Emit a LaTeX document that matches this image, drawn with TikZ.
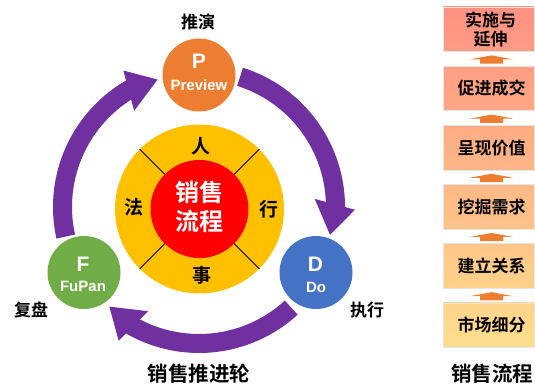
\documentclass[tikz,border=0pt]{standalone}
\usepackage{fontspec}
\setmainfont{Liberation Sans}
\newfontfamily\cjk{Noto Sans CJK SC Bold}
\usetikzlibrary{calc}
\definecolor{pOrange}{RGB}{237,125,49}
\definecolor{pBlue}{RGB}{68,114,196}
\definecolor{pGreen}{RGB}{112,173,71}
\definecolor{pPurple}{RGB}{112,48,160}
\definecolor{pYellow}{RGB}{255,192,0}
\definecolor{pRed}{RGB}{255,0,0}
\definecolor{c0t}{RGB}{255,145,130}\definecolor{c0b}{RGB}{255,155,131}
\definecolor{c1t}{RGB}{255,158,132}\definecolor{c1b}{RGB}{255,168,133}
\definecolor{c2t}{RGB}{255,172,133}\definecolor{c2b}{RGB}{255,182,135}
\definecolor{c3t}{RGB}{255,185,135}\definecolor{c3b}{RGB}{255,195,136}
\definecolor{c4t}{RGB}{255,199,137}\definecolor{c4b}{RGB}{255,209,138}
\definecolor{c5t}{RGB}{255,212,139}\definecolor{c5b}{RGB}{255,222,140}
\newcommand\ringarrow[1]{%
  \pgfmathsetmacro\sa{#1+72.5}%
  \pgfmathsetmacro\ea{#1-1.5}%
  \fill[pPurple] ($(C)+(\sa:146)$) arc[start angle=\sa, end angle=\ea, radius=146]
     -- ($(C)+(\ea:127)$) arc[start angle=\ea, end angle=\sa, radius=127] -- cycle;
  \fill[pPurple] ($(C)+({#1+4}:116)$) -- ($(C)+({#1-12}:134)$) -- ($(C)+({#1-1}:156)$) -- cycle;
}
\begin{document}
\begin{tikzpicture}[x=1pt,y=1pt,
  phase/.style={circle, minimum size=73, inner sep=0},
  big/.style={font=\bfseries\fontsize{21}{21}\selectfont, text=white, inner sep=0},
  small/.style={font=\bfseries\fontsize{15}{15}\selectfont, text=white, inner sep=0},
  lab/.style={font=\cjk\fontsize{17}{17}\selectfont, inner sep=0},
  title/.style={font=\cjk\fontsize{20.5}{20.5}\selectfont, inner sep=0},
  ringlab/.style={font=\cjk\fontsize{19}{19}\selectfont, inner sep=0},
  boxtxt/.style={font=\cjk\fontsize{17}{19.5}\selectfont, inner sep=0, align=center},
  stepbox/.style={rectangle, minimum width=91, minimum height=44.5, inner sep=0, draw=black!10, line width=0.75},
]
\fill[white] (0,0) rectangle (535,388);
\useasboundingbox (0,0) rectangle (535,388);
\coordinate (C) at (199,181);
\coordinate (Y) at (199.5,179);
% ring arrows
\ringarrow{0}
\ringarrow{-120}
\ringarrow{120}
% phase circles
\node[phase, fill=pOrange] (P) at (199,313) {};
\node[phase, fill=pBlue] (D) at (316,115.5) {};
\node[phase, fill=pGreen] (F) at (84,115.5) {};
\node[big] (Pl) at ($(P.center)+(0,13.5)$) {P};
\node[small] (Pw) at ($(P.center)+(0,-10)$) {Preview};
\node[big] (Dl) at ($(D.center)+(-0.5,8)$) {D};
\node[small] (Dw) at ($(D.center)+(0,-15)$) {Do};
\node[big] (Fl) at ($(F.center)+(-1,8)$) {F};
\node[small] (Fw) at ($(F.center)+(-1,-14)$) {FuPan};
% centre wheel
\node[circle, fill=pYellow, minimum size=169, inner sep=0] (yel) at (Y) {};
\foreach \a in {45,135,225,315}
  \draw[black, line width=0.8] ($(Y)+(\a:49)$) -- ($(Y)+(\a:84.5)$);
\node[circle, fill=pRed, minimum size=98, inner sep=0] (red) at (Y) {};
\node[font=\cjk\fontsize{24}{28.5}\selectfont, text=white, align=center, inner sep=0] (ct) at (199,181) {销售\\流程};
\node[ringlab] (ren) at (201,242) {人};
\node[ringlab] (fa) at (134,181) {法};
\node[ringlab] (xing) at (269,179) {行};
\node[ringlab] (shi) at (202,113) {事};
% outer labels
\node[lab] (tuiyan) at (198,366) {推演};
\node[lab] (fupan) at (31,78) {复盘};
\node[lab] (zhixing) at (367,78) {执行};
\node[title] (t1) at (199,14) {销售推进轮};
\node[title] (t2) at (492,14) {销售流程};
% right column
\node[stepbox, top color=c0t, bottom color=c0b] (b0) at (488.5,358.75) {};
\node[stepbox, top color=c1t, bottom color=c1b] (b1) at (488.5,299.55) {};
\node[stepbox, top color=c2t, bottom color=c2b] (b2) at (488.5,240.35) {};
\node[stepbox, top color=c3t, bottom color=c3b] (b3) at (488.5,181.15) {};
\node[stepbox, top color=c4t, bottom color=c4b] (b4) at (488.5,121.95) {};
\node[stepbox, top color=c5t, bottom color=c5b] (b5) at (488.5,62.75) {};
\node[boxtxt] (bt0) at ($(b0.center)+(2,-0.5)$) {实施与\\延伸};
\node[boxtxt] (bt1) at ($(b1.center)+(3,0)$) {促进成交};
\node[boxtxt] (bt2) at ($(b2.center)+(3,0)$) {呈现价值};
\node[boxtxt] (bt3) at ($(b3.center)+(3,0)$) {挖掘需求};
\node[boxtxt] (bt4) at ($(b4.center)+(3,0)$) {建立关系};
\node[boxtxt] (bt5) at ($(b5.center)+(3,0)$) {市场细分};
\foreach \u/\l in {b0/b1,b1/b2,b2/b3,b3/b4,b4/b5}{
  \fill[pOrange] ($(\u.south)+(3,-3.5)$) -- ($(\u.south)+(24.5,-7.5)$) -- ($(\u.south)+(14.5,-7.5)$)
    -- ($(\l.north)+(14.5,2.2)$) -- ($(\l.north)+(-8.5,2.2)$) -- ($(\u.south)+(-8.5,-7.5)$)
    -- ($(\u.south)+(-18.5,-7.5)$) -- cycle;
}
\end{tikzpicture}
\end{document}
